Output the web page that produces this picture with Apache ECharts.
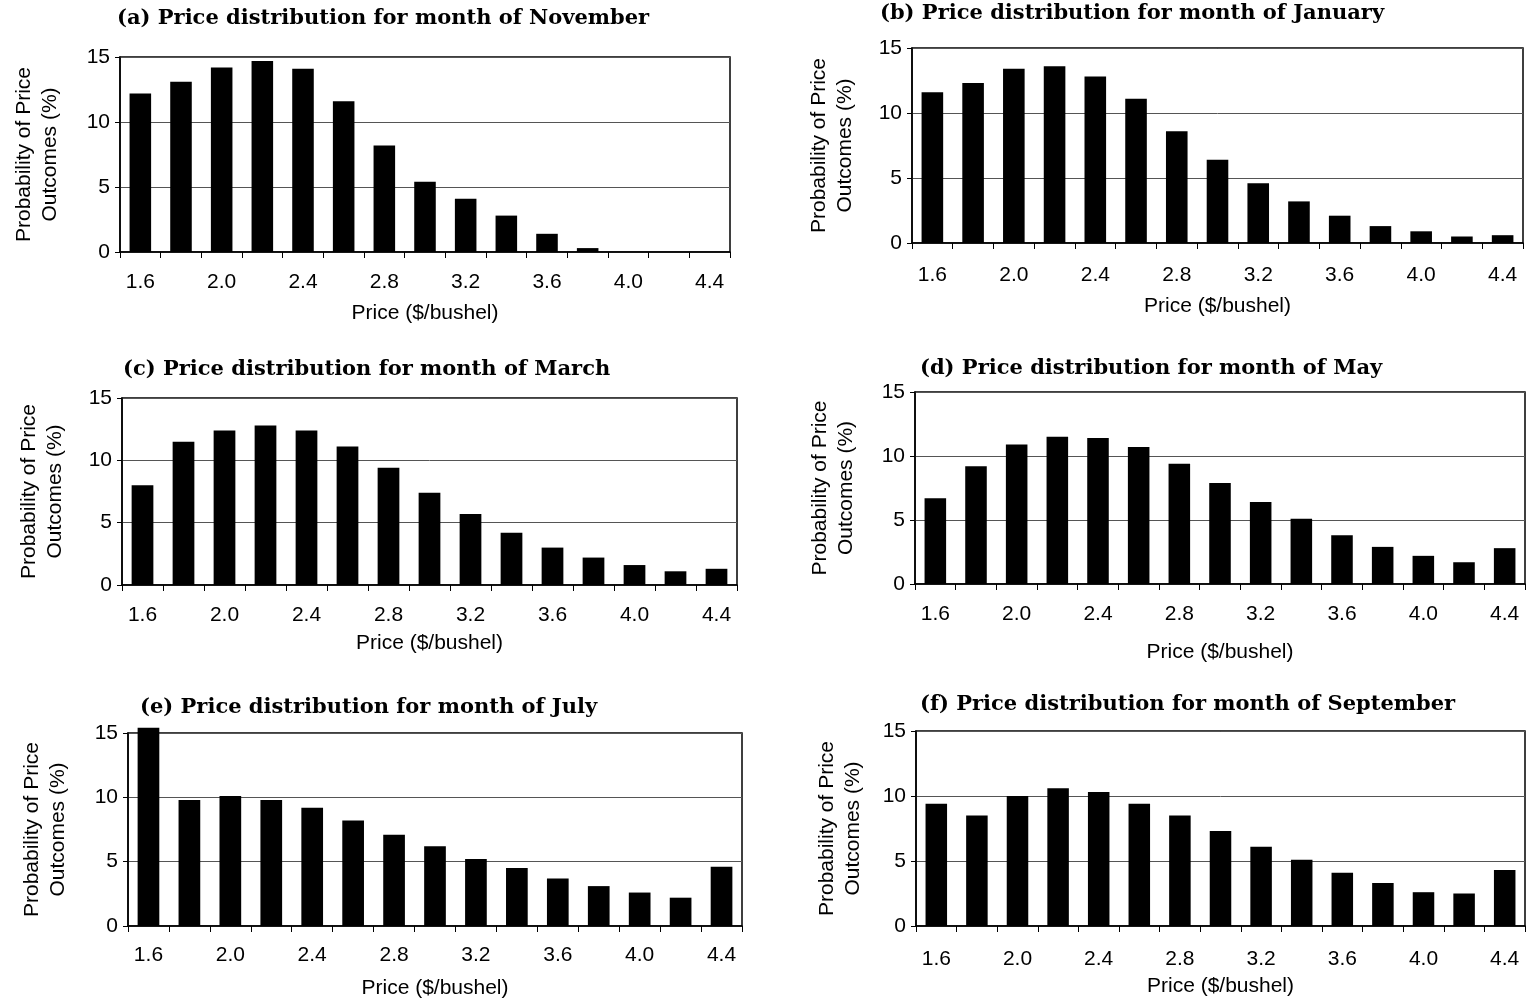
<!DOCTYPE html>
<html><head><meta charset="utf-8">
<script src="https://cdn.jsdelivr.net/npm/echarts@6/dist/echarts.min.js"></script>
<style>html,body{margin:0;padding:0;background:#fff}#c{width:1529px;height:1000px}</style>
</head><body><div id="c"></div>
<script>
var categories = ["1.6","1.8","2.0","2.2","2.4","2.6","2.8","3.0","3.2","3.4","3.6","3.8","4.0","4.2","4.4"];
var yTicks = [0, 5, 10, 15];
var titles = [
  "(a) Price distribution for month of November",
  "(b) Price distribution for month of January",
  "(c) Price distribution for month of March",
  "(d) Price distribution for month of May",
  "(e) Price distribution for month of July",
  "(f) Price distribution for month of September"
];
var novemberValues  = [12.2, 13.1, 14.2, 14.7, 14.1, 11.6, 8.2, 5.4, 4.1, 2.8, 1.4, 0.3, 0, 0, 0];
var januaryValues   = [11.6, 12.3, 13.4, 13.6, 12.8, 11.1, 8.6, 6.4, 4.6, 3.2, 2.1, 1.3, 0.9, 0.5, 0.6];
var marchValues     = [8.0, 11.5, 12.4, 12.8, 12.4, 11.1, 9.4, 7.4, 5.7, 4.2, 3.0, 2.2, 1.6, 1.1, 1.3];
var mayValues       = [6.7, 9.2, 10.9, 11.5, 11.4, 10.7, 9.4, 7.9, 6.4, 5.1, 3.8, 2.9, 2.2, 1.7, 2.8];
var julyValues      = [15.4, 9.8, 10.1, 9.8, 9.2, 8.2, 7.1, 6.2, 5.2, 4.5, 3.7, 3.1, 2.6, 2.2, 4.6];
var septemberValues = [9.4, 8.5, 10.0, 10.6, 10.3, 9.4, 8.5, 7.3, 6.1, 5.1, 4.1, 3.3, 2.6, 2.5, 4.3];
var yAxisTitle = "Probability of Price\nOutcomes (%)";
var xAxisTitle = "Price ($/bushel)";

var seriesValues = [novemberValues, januaryValues, marchValues, mayValues, julyValues, septemberValues];

// layout (pixels)
var layout = [
  {left:120, top:57,  width:610, height:195, tx:117, ty:8,   yGap:57, xGap:51, lm:20},
  {left:912, top:48,  width:611, height:195, tx:880, ty:3,   yGap:54, xGap:53, lm:22},
  {left:122, top:398, width:615, height:187, tx:123, ty:359, yGap:54, xGap:48, lm:20},
  {left:915, top:392, width:610, height:192, tx:920, ty:358, yGap:56, xGap:58, lm:20},
  {left:128, top:733, width:614, height:193, tx:140, ty:697, yGap:57, xGap:52, lm:19},
  {left:916, top:731, width:609, height:195, tx:920, ty:694, yGap:50, xGap:50, lm:23}
];

var sansFont = "'Liberation Sans', Arial, sans-serif";
var serifFont = "'DejaVu Serif', serif";

var option = {
  animation: false,
  backgroundColor: '#fff',
  title: [], grid: [], xAxis: [], yAxis: [], series: []
};

layout.forEach(function (L, i) {
  option.title.push({
    text: titles[i], left: L.tx, top: L.ty, padding: 0,
    textStyle: {fontFamily: serifFont, fontWeight: 'bold', fontSize: 21, color: '#000'}
  });
  option.grid.push({
    left: L.left, top: L.top, width: L.width, height: L.height,
    show: true, borderColor: '#000', borderWidth: 1.5, backgroundColor: 'transparent'
  });
  option.xAxis.push({
    type: 'category', gridIndex: i, data: categories,
    name: xAxisTitle, nameLocation: 'middle', nameGap: L.xGap,
    nameTextStyle: {fontFamily: sansFont, fontSize: 21, color: '#000'},
    axisLine: {lineStyle: {color: '#000', width: 1.5}},
    axisTick: {show: true, interval: 0, length: 6, lineStyle: {color: '#000', width: 1}},
    axisLabel: {interval: 1, margin: L.lm, fontFamily: sansFont, fontSize: 21, color: '#000'},
    splitLine: {show: false}
  });
  option.yAxis.push({
    type: 'value', gridIndex: i, min: yTicks[0], max: yTicks[yTicks.length - 1], interval: 5,
    name: yAxisTitle, nameLocation: 'middle', nameGap: L.yGap, nameRotate: 90,
    nameTextStyle: {fontFamily: sansFont, fontSize: 21, color: '#000', lineHeight: 26, align: 'center'},
    axisLine: {show: true, lineStyle: {color: '#000', width: 1.5}},
    axisTick: {show: true, length: 5, lineStyle: {color: '#000'}},
    axisLabel: {margin: 10, fontFamily: sansFont, fontSize: 21, color: '#000'},
    splitLine: {show: true, lineStyle: {color: '#555', width: 1}}
  });
  option.series.push({
    type: 'bar', xAxisIndex: i, yAxisIndex: i, data: seriesValues[i],
    barWidth: '53%', itemStyle: {color: '#000'}, silent: true, clip: false
  });
});

var chart = echarts.init(document.getElementById('c'), null, {renderer: 'canvas'});
chart.setOption(option);
</script>
</body></html>
